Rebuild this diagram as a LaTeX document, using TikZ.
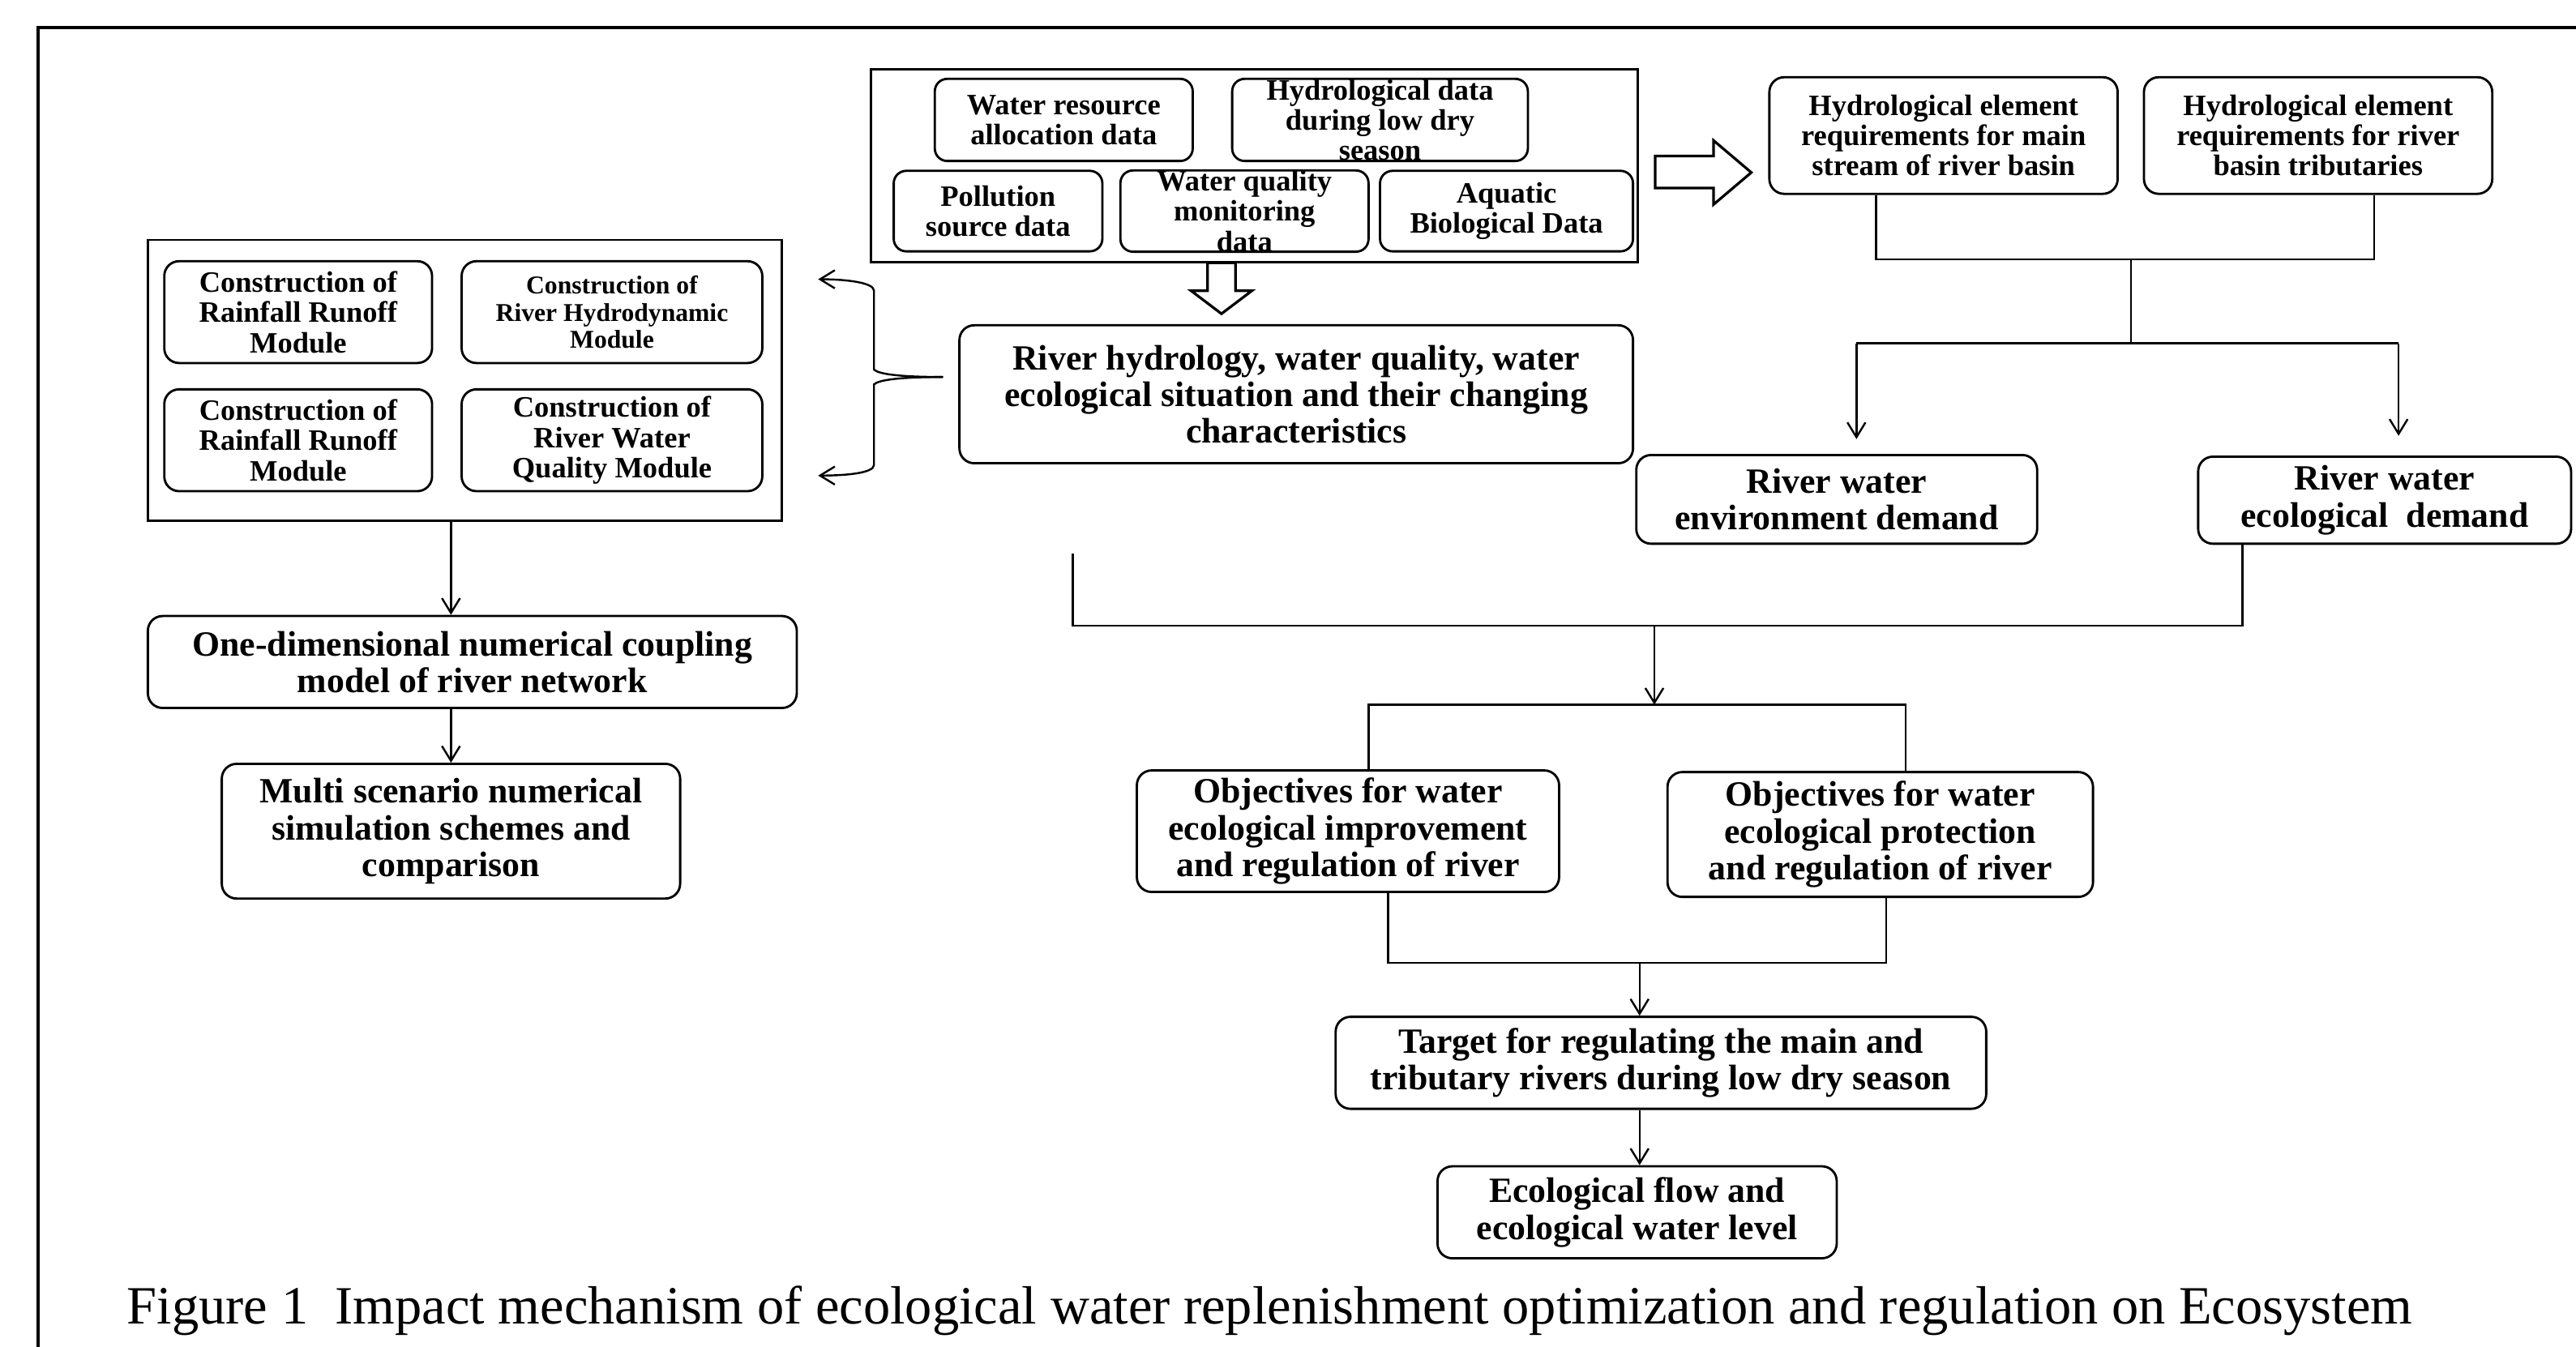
\documentclass[tikz,border=0pt]{standalone}
\usepackage{fontspec}
\setmainfont{Liberation Serif}
\usetikzlibrary{arrows.meta}
\newcommand\fntmain{\fontsize{10.8}{11.2}\selectfont\bfseries}
\newcommand\fntsmall{\fontsize{9}{9.2}\selectfont\bfseries}
\newcommand\fnttiny{\fontsize{7.8}{8.3}\selectfont\bfseries}
\newcommand\fntcap{\fontsize{16.4}{18}\selectfont}
\begin{document}
\begin{tikzpicture}[x=0.5pt,y=-0.5pt,
  box/.style={draw, rounded corners=4.5pt, line width=0.7pt, align=center, inner sep=0pt, font=\fntmain},
  sbox/.style={box, rounded corners=3.8pt, font=\fntsmall},
  frm/.style={draw, line width=0.7pt, inner sep=0pt},
  conn/.style={line width=0.6pt},
  arr/.style={line width=0.6pt, -{Straight Barb[length=4.5pt,width=5.5pt]}},
  hollow/.style={draw, line width=0.8pt, fill=white, line join=miter}]
\useasboundingbox (0,0) rectangle (1568,820);
\fill[white] (0,0) rectangle (1568,820);
% outer frame
\draw[line width=1pt] (23,820) -- (23,17) -- (1568,17);

% data block
\node[frm, minimum width=233.5pt, minimum height=58.75pt] (data) at (763.5,100.75) {};
\node[sbox, minimum width=78.5pt, minimum height=25pt] (d1) at (647.5,73) {Water resource\\allocation data};
\node[sbox, minimum width=90pt, minimum height=25pt] (d2) at (840,73) {Hydrological data\\during low dry\\season};
\node[sbox, minimum width=63.5pt, minimum height=24.5pt] (d3) at (607.5,128.5) {Pollution\\source data};
\node[sbox, minimum width=75.5pt, minimum height=24.5pt] (d4) at (757.5,128.5) {Water quality\\monitoring\\data};
\node[sbox, minimum width=77pt, minimum height=24.5pt] (d5) at (917,128.5) {Aquatic\\Biological Data};

% hydrological element requirements
\node[sbox, rounded corners=4.5pt, minimum width=106pt, minimum height=35.5pt] (h1) at (1183,82.5) {Hydrological element\\requirements for main\\stream of river basin};
\node[sbox, rounded corners=4.5pt, minimum width=106pt, minimum height=35.5pt] (h2) at (1411,82.5) {Hydrological element\\requirements for river\\basin tributaries};

% demands
\node[box, minimum width=122pt, minimum height=27pt] (env) at (1118,304) {River water\\environment demand};
\node[box, minimum width=113.5pt, minimum height=26.5pt] (eco) at (1451.5,304.5) {\raisebox{-1pt}{River water}\\\raisebox{-1pt}{ecological\ \ demand}};

% central
\node[box, minimum width=205pt, minimum height=42pt] (cen) at (789,240) {River hydrology, water quality, water\\ecological situation and their changing\\characteristics};

% model block
\node[frm, minimum width=193pt, minimum height=85.5pt] (model) at (283,231.5) {};
\node[sbox, rounded corners=4.5pt, minimum width=81.5pt, minimum height=31pt] (m1) at (181.5,190) {Construction of\\Rainfall Runoff\\Module};
\node[sbox, rounded corners=4.5pt, minimum width=91.5pt, minimum height=31pt, font=\fnttiny] (m2) at (372.5,190) {Construction of\\River Hydrodynamic\\Module};
\node[sbox, rounded corners=4.5pt, minimum width=81.5pt, minimum height=31pt] (m3) at (181.5,268) {Construction of\\Rainfall Runoff\\Module};
\node[sbox, rounded corners=4.5pt, minimum width=91.5pt, minimum height=31pt] (m4) at (372.5,268) {Construction of\\River Water\\Quality Module};

\node[box, minimum width=197.5pt, minimum height=28pt] (one) at (287.5,403) {One-dimensional numerical coupling\\model of river network};
\node[box, minimum width=139.5pt, minimum height=41pt] (multi) at (274.5,506) {Multi scenario numerical\\simulation schemes and\\comparison};

% objectives
\node[box, minimum width=128.5pt, minimum height=37pt] (obj1) at (820.5,506) {Objectives for water\\ecological improvement\\and regulation of river};
\node[box, minimum width=129.5pt, minimum height=38pt] (obj2) at (1144.5,508) {Objectives for water\\ecological protection\\and regulation of river};
\node[box, minimum width=198pt, minimum height=28pt] (tgt) at (1011,647) {Target for regulating the main and\\tributary rivers during low dry season};
\node[box, minimum width=121.5pt, minimum height=28pt] (flow) at (996.5,738) {Ecological flow and\\ecological water level};

% hollow arrows
\draw[hollow] (1007.5,95) -- (1043,95) -- (1043,85.5) -- (1066,105) -- (1043,124.5) -- (1043,114.5) -- (1007.5,114.5) -- cycle;
\draw[hollow] (735,160) -- (752,160) -- (752,177) -- (762,177) -- (743.5,191) -- (725,177) -- (735,177) -- cycle;

% helper coordinates
\coordinate (xa) at (1142,0);
\coordinate (xb) at (1445,0);
\coordinate (j1) at (1297,158);
\coordinate (j2) at (1297,209);
\coordinate (xe) at (1130,0);
\coordinate (xf) at (1460,0);
\coordinate (s1) at (653,337);
\coordinate (k2) at (1007,381);
\coordinate (k3) at (1007,429);
\coordinate (xg) at (1365,0);
\coordinate (xh) at (833,0);
\coordinate (xi) at (1160,0);
\coordinate (xj) at (845,0);
\coordinate (xk) at (1148,0);
\coordinate (k4) at (998,586);
\coordinate (bt) at (574,229.5);
\coordinate (t1) at (498,170);
\coordinate (t2) at (498,289.5);

% right-hand tree
\draw[conn] (h1.south -| xa) |- (j1) -| (h2.south -| xb);
\draw[conn] (j1) -- (j2);
\draw[conn] (xe |- j2) -- (xf |- j2);
\draw[arr, shorten >=4.5pt] (xe |- j2) -- (env.north -| xe);
\draw[arr, shorten >=6pt] (xf |- j2) -- (eco.north -| xf);

% merge to objectives
\draw[conn] (s1) |- (k2) -| (eco.south -| xg);
\draw[arr] (k2) -- (k3);
\draw[conn] (obj1.north -| xh) |- (k3) -| (obj2.north -| xi);
\draw[conn] (obj1.south -| xj) |- (k4) -| (obj2.south -| xk);
\draw[arr] (k4) -- (tgt.north -| k4);
\draw[arr] (tgt.south -| k4) -- (flow.north -| k4);

% left chain
\draw[arr] (multi.north |- model.south) -- (multi.north |- one.north);
\draw[arr] (multi.north |- one.south) -- (multi.north);

% brace
\draw[arr] (bt) .. controls (550,229.5) and (535,228) .. (532,225) -- (532,177) .. controls (532,172) and (515,170) .. (t1);
\draw[arr] (bt) .. controls (550,229.5) and (535,231) .. (532,234) -- (532,283) .. controls (532,288) and (515,289.5) .. (t2);

% caption
\node[anchor=base west, font=\fntcap, inner sep=0pt] (cap) at (77,806) {Figure 1\ \ Impact mechanism of ecological water replenishment optimization and regulation on Ecosystem};
\end{tikzpicture}
\end{document}
